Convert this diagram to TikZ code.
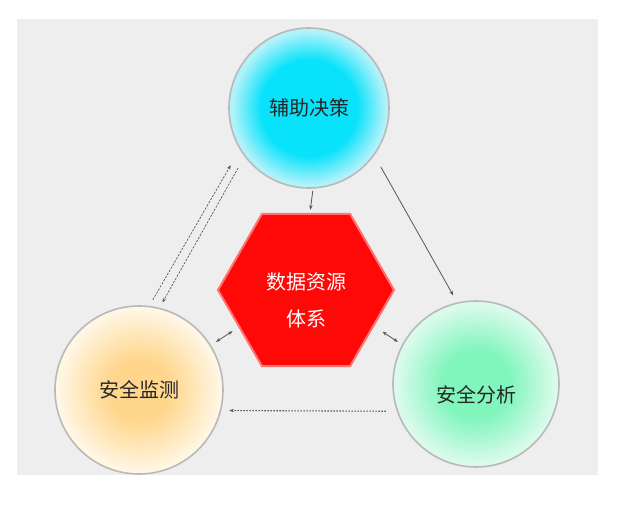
\documentclass[tikz,border=0pt]{standalone}
\usepackage{fontspec}
\setmainfont{Noto Sans CJK SC}
\usetikzlibrary{positioning}
\usetikzlibrary{shapes.geometric, arrows.meta}
\usepackage{xcolor}

\definecolor{bggrey}{RGB}{238,238,238}
\definecolor{cyanC}{RGB}{8,226,250}
\definecolor{cyanR}{RGB}{178,242,250}
\definecolor{sandC}{RGB}{255,214,140}
\definecolor{sandR}{RGB}{255,246,228}
\definecolor{mintC}{RGB}{128,245,188}
\definecolor{mintR}{RGB}{218,251,235}
\definecolor{hexred}{RGB}{255,8,8}
\definecolor{linegrey}{RGB}{85,85,85}

% the circle rim sits at about 25bp of the shading
\pgfdeclareradialshading{cyanball}{\pgfpoint{0bp}{0bp}}{color(0bp)=(cyanC); color(15bp)=(cyanC); color(24bp)=(cyanR); color(50bp)=(cyanR)}
\pgfdeclareradialshading{sandball}{\pgfpoint{0bp}{0bp}}{color(0bp)=(sandC); color(9bp)=(sandC); color(24bp)=(sandR); color(50bp)=(sandR)}
\pgfdeclareradialshading{mintball}{\pgfpoint{0bp}{0bp}}{color(0bp)=(mintC); color(10bp)=(mintC); color(24bp)=(mintR); color(50bp)=(mintR)}

\begin{document}
\begin{tikzpicture}[x=1pt, y=-1pt,
  ballfont/.style={font=\fontsize{20}{24}\selectfont, text=black!85},
  ball/.style={circle, draw=gray!55, line width=1.6pt, inner sep=0pt, ballfont},
  link/.style={draw=linegrey, line width=0.8pt, -{Stealth[length=4.5pt,width=3.5pt]}},
  dashedlink/.style={link, line width=0.7pt, dash pattern=on 2.2pt off 1.4pt},
  dottedlink/.style={link, line width=1.1pt, dash pattern=on 1.5pt off 1.5pt},
  twoway/.style={link, {Stealth[length=4.5pt,width=3.5pt]}-{Stealth[length=4.5pt,width=3.5pt]}}]

\useasboundingbox (0,0) rectangle (635,514);
\fill[bggrey] (17,19) rectangle (598,475);

% Nodes
\node (aux) at (309,108) [ball, minimum size=160pt, shading=cyanball] {辅助决策};
\node (mon) at (139,390) [ball, minimum size=168pt, shading=sandball] {安全监测};
\node (ana) at (476,384) [ball, minimum size=166pt, shading=mintball,
  label={[ballfont, yshift=-11pt]center:安全分析}] {};
\node (hub) at (306,290) [regular polygon, regular polygon sides=6, minimum size=176pt, inner sep=0pt,
  fill=hexred, draw=red!55, line width=2pt,
  label={[text=white, align=center, font=\fontsize{20}{37}\selectfont, yshift=-10pt]center:数据资源\\体系}] {};

% Arrows
\draw[link, shorten <=2pt, shorten >=3pt] ([xshift=4pt]aux.south) -- ([xshift=4pt]hub.north);
\draw[link, shorten <=13pt, shorten >=8pt] (aux.-36) -- (ana.103);
\draw[dashedlink, shorten <=7pt, shorten >=18pt] (mon.83) -- (aux.211);
\draw[dashedlink, shorten <=13pt, shorten >=6pt] (aux.217) -- (mon.76);
\draw[dottedlink, shorten <=11pt, shorten >=8pt] (ana.199) -- (mon.-14);
\draw[twoway, shorten <=6pt, shorten >=7pt] (mon.32) -- (hub.209);
\draw[twoway, shorten <=10pt, shorten >=5pt] (hub.-28) -- (ana.152);

\end{tikzpicture}
\end{document}
